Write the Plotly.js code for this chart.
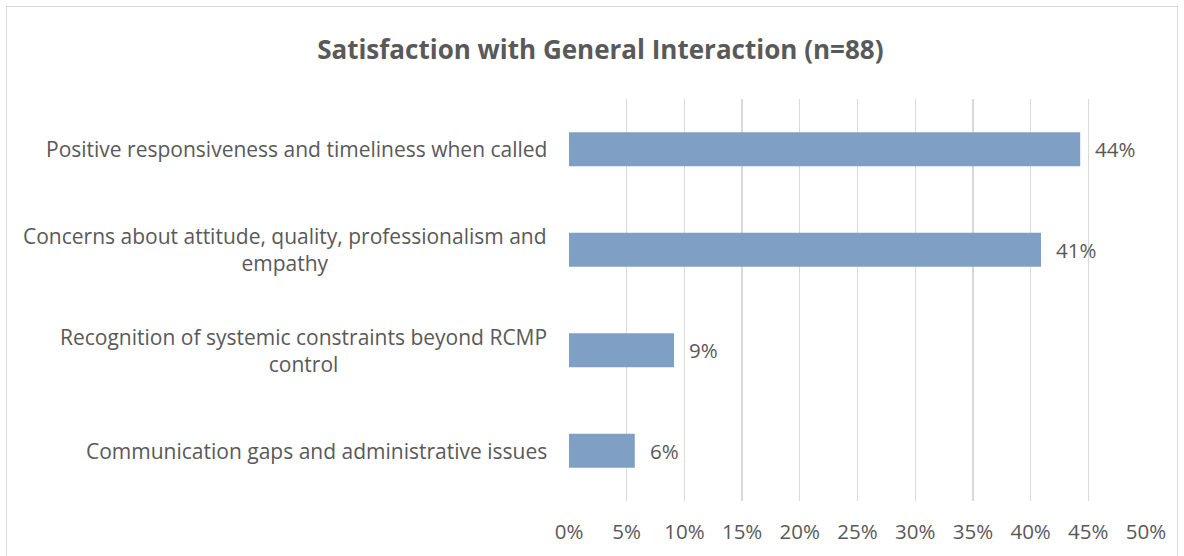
<!DOCTYPE html>
<html>
<head>
<meta charset="utf-8">
<script src="https://cdn.plot.ly/plotly-3.0.1.min.js"></script>
<style>
  html, body { margin: 0; padding: 0; background: #fff; }
  #wrap { position: relative; width: 1184px; height: 556px; overflow: hidden; }
  #frame { position: absolute; left: 6px; top: 6px; width: 1172px; height: 600px; border: 1px solid #d9d9d9; box-sizing: border-box; }
  #chart { position: absolute; left: 0; top: 0; width: 1184px; height: 556px; }
</style>
</head>
<body>
<div id="wrap">
  <div id="frame"></div>
  <div id="chart"></div>
</div>
<script>
const categories = [
  "Positive responsiveness and timeliness when called",
  "Concerns about attitude, quality, professionalism and<br>empathy",
  "Recognition of systemic constraints beyond RCMP<br>control",
  "Communication gaps and administrative issues"
];
const values = [44.3, 40.9, 9.1, 5.7];
const valueLabels = ["44%", "41%", "9%", "6%"];
const tickVals = [0, 5, 10, 15, 20, 25, 30, 35, 40, 45, 50];
const tickText = ["0%", "5%", "10%", "15%", "20%", "25%", "30%", "35%", "40%", "45%", "50%"];

const FONT = "'Open Sans', sans-serif";
const GREY = "#595959";

const trace = {
  type: "bar",
  orientation: "h",
  x: values,
  y: categories,
  marker: { color: "#7f9fc5" },
  hoverinfo: "skip"
};

const annotations = [];
categories.forEach((c, i) => {
  annotations.push({
    xref: "paper", yref: "y", x: 0, y: c, xanchor: "right", yanchor: "middle",
    xshift: -20, text: c, showarrow: false, align: "center",
    font: { family: FONT, size: 21, color: GREY }
  });
  annotations.push({
    xref: "x", yref: "y", x: values[i], y: c, xanchor: "left", yanchor: "middle",
    xshift: 13, text: valueLabels[i], showarrow: false,
    font: { family: FONT, size: 20.5, color: GREY }
  });
});

const layout = {
  width: 1184, height: 556,
  paper_bgcolor: "rgba(0,0,0,0)", plot_bgcolor: "rgba(0,0,0,0)",
  margin: { l: 569, r: 38, t: 99, b: 55 },
  title: {
    text: "<b>Satisfaction with General Interaction (n=88)</b>",
    font: { family: FONT, size: 26, color: GREY },
    x: 0.507, xanchor: "center", y: 0.91, yanchor: "middle"
  },
  showlegend: false,
  bargap: 0.66,
  xaxis: {
    range: [0, 50], tickvals: tickVals, ticktext: tickText,
    showgrid: true, gridcolor: "#d9d9d9", gridwidth: 1.3,
    zeroline: false, showline: false, ticks: "",
    ticklabelstandoff: 16,
    tickfont: { family: FONT, size: 20.5, color: GREY },
    fixedrange: true
  },
  yaxis: {
    autorange: "reversed", showticklabels: false, showgrid: false,
    zeroline: false, showline: false, ticks: "", fixedrange: true
  },
  annotations: annotations
};

Plotly.newPlot("chart", [trace], layout, { displayModeBar: false, staticPlot: true });
</script>
</body>
</html>
